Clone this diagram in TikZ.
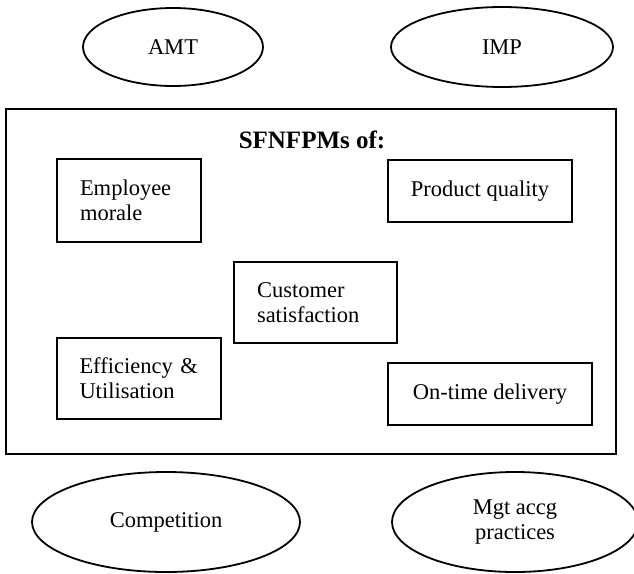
\documentclass[tikz,border=0pt]{standalone}
\usepackage{fontspec}
\setmainfont{Liberation Serif}
\usetikzlibrary{shapes.geometric}
\begin{document}
\begin{tikzpicture}[x=1pt,y=-1pt,
  every node/.style={font=\fontsize{22.5}{25}\selectfont, inner sep=0pt},
  factor/.style={draw, ellipse, line width=1.8pt, align=center},
  measure/.style={draw, rectangle, line width=2.2pt},
  leftmeasure/.style={measure, align=left},
  frame/.style={draw, rectangle, line width=2.2pt}]
  \useasboundingbox (0,0) rectangle (634,573);

  % outer frame and its heading
  \node[frame, minimum width=610pt, minimum height=345pt] (frame) at (311,281.5) {};
  \node[font=\fontsize{25}{28}\selectfont\bfseries] (title) at (312,140) {SFNFPMs of:};

  % the individual measures
  \node[leftmeasure, minimum width=144pt, minimum height=83pt, text width=98pt]
    (morale) at (129,200.5) {Employee\\morale};
  \node[measure, minimum width=184pt, minimum height=62pt]
    (quality) at (480,191) {Product quality};
  \node[leftmeasure, minimum width=163pt, minimum height=81pt, text width=117pt]
    (customer) at (315.5,302.5) {Customer\\satisfaction};
  \node[leftmeasure, minimum width=164pt, minimum height=81pt, text width=119pt]
    (efficiency) at (139,378.5) {Efficiency \&\\Utilisation};
  \node[measure, minimum width=204pt, minimum height=62pt]
    (delivery) at (490,394) {On-time delivery};

  % surrounding factors
  \node[factor, minimum width=180pt, minimum height=78pt] (amt) at (173,47) {AMT};
  \node[factor, minimum width=222pt, minimum height=80pt] (imp) at (502,47) {IMP};
  \node[factor, minimum width=268pt, minimum height=100pt] (comp) at (166,522) {Competition};
  \node[factor, minimum width=246pt, minimum height=100pt] (mgt) at (515,522) {Mgt accg\\practices};
\end{tikzpicture}
\end{document}
